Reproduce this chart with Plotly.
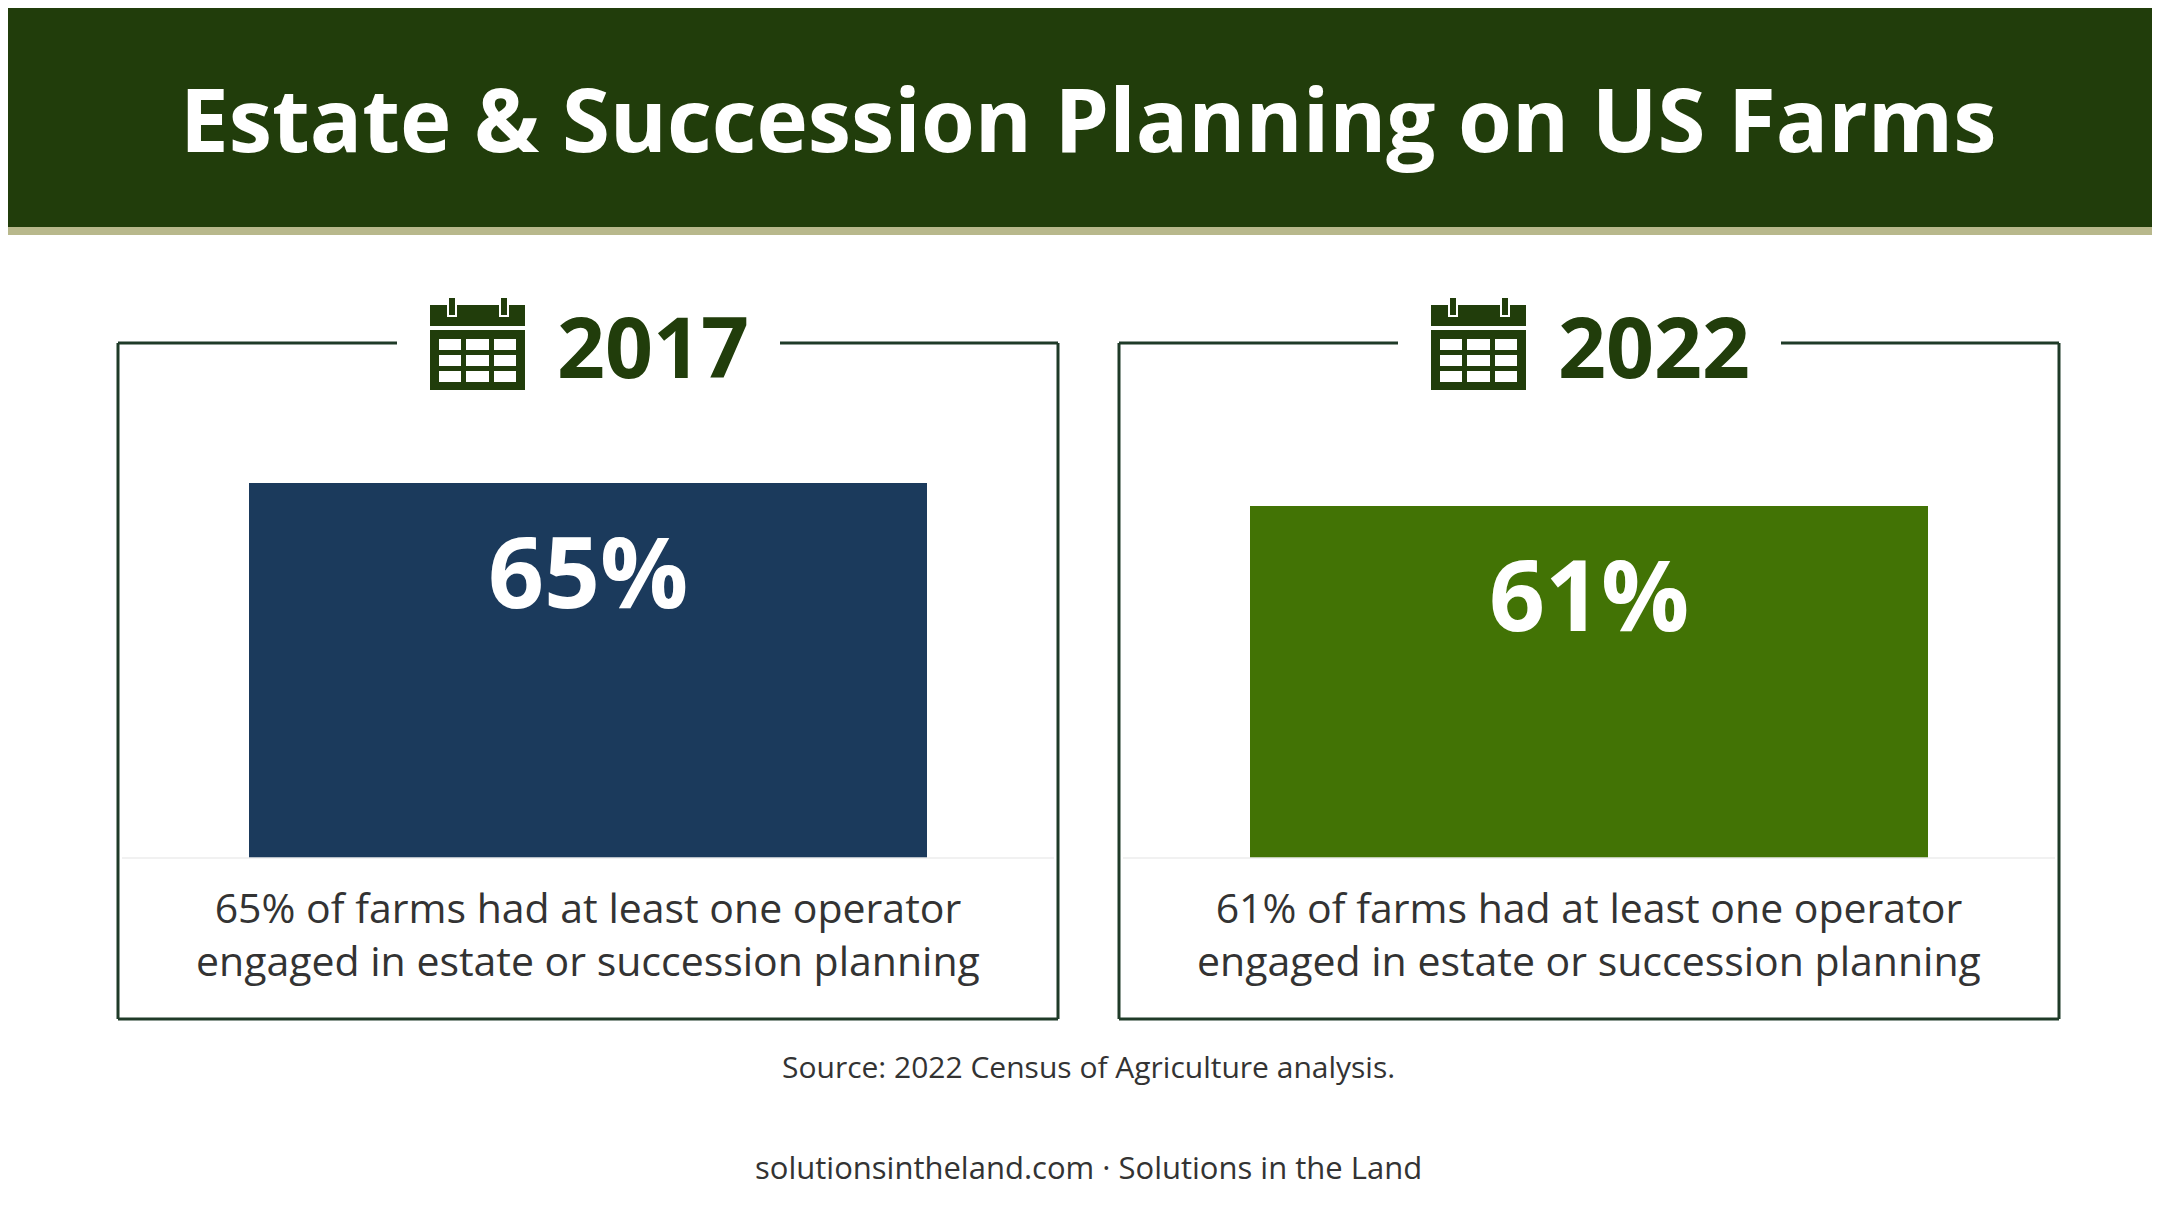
import plotly.graph_objects as go

W, H = 2160, 1206
years = ["2017", "2022"]
values = [65, 61]
bar_colors = ["#1b3a5c", "#427305"]
descriptions = ["{}% of farms had at least one operator<br>engaged in estate or succession planning".format(v) for v in values]
title = "Estate & Succession Planning on US Farms"
source = "Source: 2022 Census of Agriculture analysis."
footer = "solutionsintheland.com · Solutions in the Land"

DARK = "#213d0b"
BORDER = "#1f3b28"

def fx(px): return px / W
def fy(py): return 1 - py / H

fig = go.Figure()
shapes = []
annotations = []

def rect(x0, y0, x1, y1, fill, line=None, lw=0):
    shapes.append(dict(type="rect", xref="paper", yref="paper",
                       x0=fx(x0), x1=fx(x1), y0=fy(y1), y1=fy(y0),
                       fillcolor=fill, line=dict(color=line or fill, width=lw), layer="above"))

def line(x0, y0, x1, y1, color, lw):
    shapes.append(dict(type="line", xref="paper", yref="paper",
                       x0=fx(x0), x1=fx(x1), y0=fy(y0), y1=fy(y1),
                       line=dict(color=color, width=lw), layer="above"))

def text(t, x, y, size, color):
    annotations.append(dict(text=t, x=fx(x), y=fy(y), xref="paper", yref="paper",
                            xanchor="center", yanchor="middle", showarrow=False,
                            font=dict(family="Open Sans", size=size, color=color)))

rect(0, 0, W, 219, DARK)
rect(0, 219, W, 227, "#b8b88c")
text("<b>" + title + "</b>", W / 2, 110, 87, "white")

R = 65 * 410 / 375
for i, (yr, v, c, d) in enumerate(zip(years, values, bar_colors, descriptions)):
    off = i * 1001
    line(110 + off, 335, 110 + off, 1011, BORDER, 3)
    line(1050 + off, 335, 1050 + off, 1011, BORDER, 3)
    line(110 + off, 1011, 1050 + off, 1011, BORDER, 3)
    line(110 + off, 335, 389 + off, 335, BORDER, 3)
    line(772 + off, 335, 1050 + off, 335, BORDER, 3)
    line(114 + off, 850, 1046 + off, 850, "#ececec", 1.5)
    rect(422 + off, 297, 517 + off, 318, DARK)
    rect(422 + off, 322, 517 + off, 382, DARK)
    for cx0, cx1 in [(431, 453), (458, 481), (486, 508)]:
        for cy0, cy1 in [(331, 342), (347, 358), (363, 374)]:
            rect(cx0 + off, cy0, cx1 + off, cy1, "white")
    for px in (440, 492):
        rect(px + off, 289, px + 8 + off, 308, DARK, "white", 2)
    text("<b>" + yr + "</b>", 645 + off, 338, 84, DARK)
    text(d, 580 + off, 925, 41, "#333333")
    ax = "" if i == 0 else "2"
    fig.add_trace(go.Bar(x=[yr], y=[v], marker=dict(color=c, line=dict(width=0)), width=1,
                         xaxis="x" + ax, yaxis="y" + ax, hoverinfo="skip", showlegend=False))
    annotations.append(dict(text="<b>%d%%</b>" % v, x=0.5, y=v, xref="x%s domain" % ax, yref="y" + ax,
                            xanchor="center", yanchor="top", yshift=-18, showarrow=False,
                            font=dict(family="Open Sans", size=98, color="white")))
    axis = dict(visible=False, fixedrange=True)
    fig.layout["xaxis" + ax] = dict(axis, type="category", domain=[fx(241 + off), fx(919 + off)], range=[-0.5, 0.5])
    fig.layout["yaxis" + ax] = dict(axis, domain=[fy(850), fy(440)], range=[0, R])

text(source, W / 2, 1058, 30, "#333333")
text(footer, W / 2, 1159, 31, "#333333")

fig.update_layout(width=W, height=H, margin=dict(l=0, r=0, t=0, b=0),
                  paper_bgcolor="white", plot_bgcolor="white",
                  shapes=shapes, annotations=annotations, bargap=0)
fig.write_html("out.html", config=dict(displayModeBar=False))
